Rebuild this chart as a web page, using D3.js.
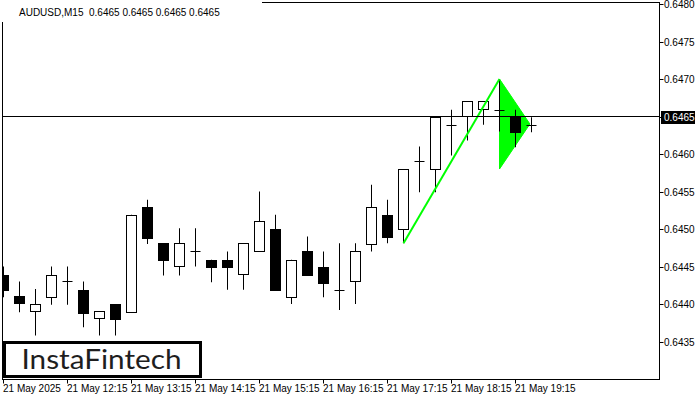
<!DOCTYPE html>
<html><head><meta charset="utf-8">
<script src="https://cdn.jsdelivr.net/npm/d3@7"></script>
<style>html,body{margin:0;padding:0;background:#fff;}svg{display:block;}</style>
</head><body>
<svg id="c" width="700" height="400"></svg>
<script>
// ---- data ----
const opens  = [0.64439,0.64410,0.64390,0.64409,0.64430,0.64419,0.64380,0.64400,0.64390,0.64530,0.64481,0.64450,0.64470,0.64459,0.64459,0.64439,0.64470,0.64500,0.64410,0.64470,0.64450,0.64419,0.64430,0.64481,0.64519,0.64500,0.64590,0.64580,0.64639,0.64650,0.64659,0.64659,0.64650,0.64639];
const highs  = [0.64450,0.64430,0.64420,0.64450,0.64450,0.64430,0.64390,0.64400,0.64519,0.64539,0.64481,0.64501,0.64501,0.64459,0.64470,0.64481,0.64550,0.64519,0.64459,0.64490,0.64470,0.64481,0.64481,0.64559,0.64539,0.64580,0.64610,0.64650,0.64659,0.64670,0.64670,0.64700,0.64659,0.64649];
const lows   = [0.64409,0.64389,0.64358,0.64399,0.64399,0.64369,0.64358,0.64358,0.64390,0.64480,0.64438,0.64438,0.64450,0.64429,0.64419,0.64419,0.64470,0.64419,0.64400,0.64438,0.64409,0.64392,0.64400,0.64470,0.64481,0.64481,0.64549,0.64549,0.64598,0.64618,0.64639,0.64630,0.64609,0.64629];
const closes = [0.64419,0.64400,0.64400,0.64439,0.64430,0.64389,0.64390,0.64380,0.64519,0.64489,0.64458,0.64481,0.64470,0.64450,0.64450,0.64481,0.64510,0.64419,0.64459,0.64438,0.64429,0.64419,0.64470,0.64530,0.64490,0.64580,0.64590,0.64650,0.64639,0.64670,0.64670,0.64659,0.64630,0.64639];
const xTickIndex  = [0,4,8,12,16,20,24,28,32];
const xTickLabels = ["21 May 2025","21 May 12:15","21 May 13:15","21 May 14:15","21 May 15:15","21 May 16:15","21 May 17:15","21 May 18:15","21 May 19:15"];
const yTicks = [0.6435,0.6440,0.6445,0.6450,0.6455,0.6460,0.6465,0.6470,0.6475,0.6480];
const currentPrice = 0.6465;
const poleIdx = [25, 31];
const polePrice = [0.64481, 0.64700];
const flagIdx = [31, 31, 32.9];
const flagPrice = [0.64700, 0.64580, 0.64640];
const headerText = "AUDUSD,M15  0.6465 0.6465 0.6465 0.6465";

// ---- layout ----
const L = 2.5, R = 659.5, T = 2.5, B = 379.5;
const svg = d3.select("#c");
const x = d3.scaleLinear().domain([0, 33]).range([3.5, 3.5 + 16 * 33]);
const y = d3.scaleLinear().domain([0.6435, 0.6480]).range([341.5, 4]);
const font = "'Liberation Sans', Arial, sans-serif";

svg.append("defs").append("clipPath").attr("id","plot")
  .append("rect").attr("x", 3).attr("y", 3).attr("width", R - 3).attr("height", B - 3);

const plot = svg.append("g").attr("clip-path", "url(#plot)");

// flag triangle (below candles)
plot.append("path")
  .attr("d", d3.line()(flagIdx.map((d, i) => [x(d), y(flagPrice[i])])) + "Z")
  .attr("fill", "#00ff00").attr("stroke", "#00ff00").attr("stroke-width", 1);

// candles
const idx = d3.range(opens.length);
const g = plot.append("g").selectAll("g").data(idx).join("g");
const rx = v => Math.round(v - 0.5) + 0.5;
g.append("line")
  .attr("x1", i => rx(x(i))).attr("x2", i => rx(x(i)))
  .attr("y1", i => y(highs[i])).attr("y2", i => y(lows[i]))
  .attr("stroke", "#000").attr("stroke-width", 1);
g.filter(i => Math.abs(opens[i] - closes[i]) > 1e-7).append("rect")
  .attr("x", i => rx(x(i)) - 5).attr("width", 10)
  .attr("y", i => Math.round(y(Math.max(opens[i], closes[i]))) + 0.5)
  .attr("height", i => Math.max(1, Math.round(Math.abs(y(opens[i]) - y(closes[i])))))
  .attr("fill", i => closes[i] > opens[i] ? "#fff" : "#000")
  .attr("stroke", "#000").attr("stroke-width", 1);
g.filter(i => Math.abs(opens[i] - closes[i]) <= 1e-7).append("line")
  .attr("x1", i => rx(x(i)) - 5).attr("x2", i => rx(x(i)) + 5)
  .attr("y1", i => Math.round(y(opens[i])) + 0.5).attr("y2", i => Math.round(y(opens[i])) + 0.5)
  .attr("stroke", "#000").attr("stroke-width", 1);

// flag pole
plot.append("line")
  .attr("x1", x(poleIdx[0])).attr("y1", y(polePrice[0]))
  .attr("x2", x(poleIdx[1])).attr("y2", y(polePrice[1]))
  .attr("stroke", "#00ff00").attr("stroke-width", 2);

// current price line
plot.append("line").attr("x1", L).attr("x2", R)
  .attr("y1", y(currentPrice)).attr("y2", y(currentPrice))
  .attr("stroke", "#000").attr("stroke-width", 1);

// frame
svg.append("rect").attr("x", L).attr("y", T).attr("width", R - L).attr("height", B - T)
  .attr("fill", "none").attr("stroke", "#000").attr("stroke-width", 1);

// y axis
const yAxis = svg.append("g").attr("font-family", font).attr("font-size", 10);
yTicks.forEach(t => {
  const yy = Math.round(y(t)) + 0.5;
  yAxis.append("line").attr("x1", R).attr("x2", R + 4).attr("y1", yy).attr("y2", yy).attr("stroke", "#000");
  if (Math.abs(t - currentPrice) > 1e-9)
    yAxis.append("text").attr("x", 664).attr("y", yy + 3.5).attr("fill", "#000").text(t.toFixed(4));
});
const cy = Math.round(y(currentPrice)) + 0.5;
yAxis.append("rect").attr("x", 661).attr("y", cy - 6.5).attr("width", 34).attr("height", 13).attr("fill", "#000");
yAxis.append("text").attr("x", 664).attr("y", cy + 3.5).attr("fill", "#fff").text(currentPrice.toFixed(4));

// x axis
const xAxis = svg.append("g").attr("font-family", font).attr("font-size", 10);
xTickIndex.forEach((k, i) => {
  const xx = rx(x(k));
  xAxis.append("line").attr("x1", xx).attr("x2", xx).attr("y1", B).attr("y2", B + 4).attr("stroke", "#000");
  xAxis.append("text").attr("x", xx - 0.5).attr("y", 392).attr("fill", "#000").text(xTickLabels[i]);
});

// header
svg.append("rect").attr("x", 0).attr("y", 0).attr("width", 262).attr("height", 22).attr("fill", "#fff");
svg.append("text").attr("x", 19).attr("y", 15.5).attr("font-family", font).attr("font-size", 10)
  .attr("fill", "#000").attr("xml:space", "preserve").style("white-space", "pre").text(headerText);

// logo
svg.append("rect").attr("x", 4.5).attr("y", 342.5).attr("width", 196).attr("height", 34)
  .attr("fill", "#fff").attr("stroke", "#000").attr("stroke-width", 3);
svg.append("text").attr("x", 101.5).attr("y", 368.5).attr("text-anchor", "middle")
  .attr("font-family", "Lato, 'Open Sans', sans-serif").attr("font-size", 27).attr("font-weight", 400)
  .attr("fill", "#1e1e1e").attr("textLength", 160).attr("lengthAdjust", "spacingAndGlyphs")
  .text("InstaFintech");
</script>
</body></html>
